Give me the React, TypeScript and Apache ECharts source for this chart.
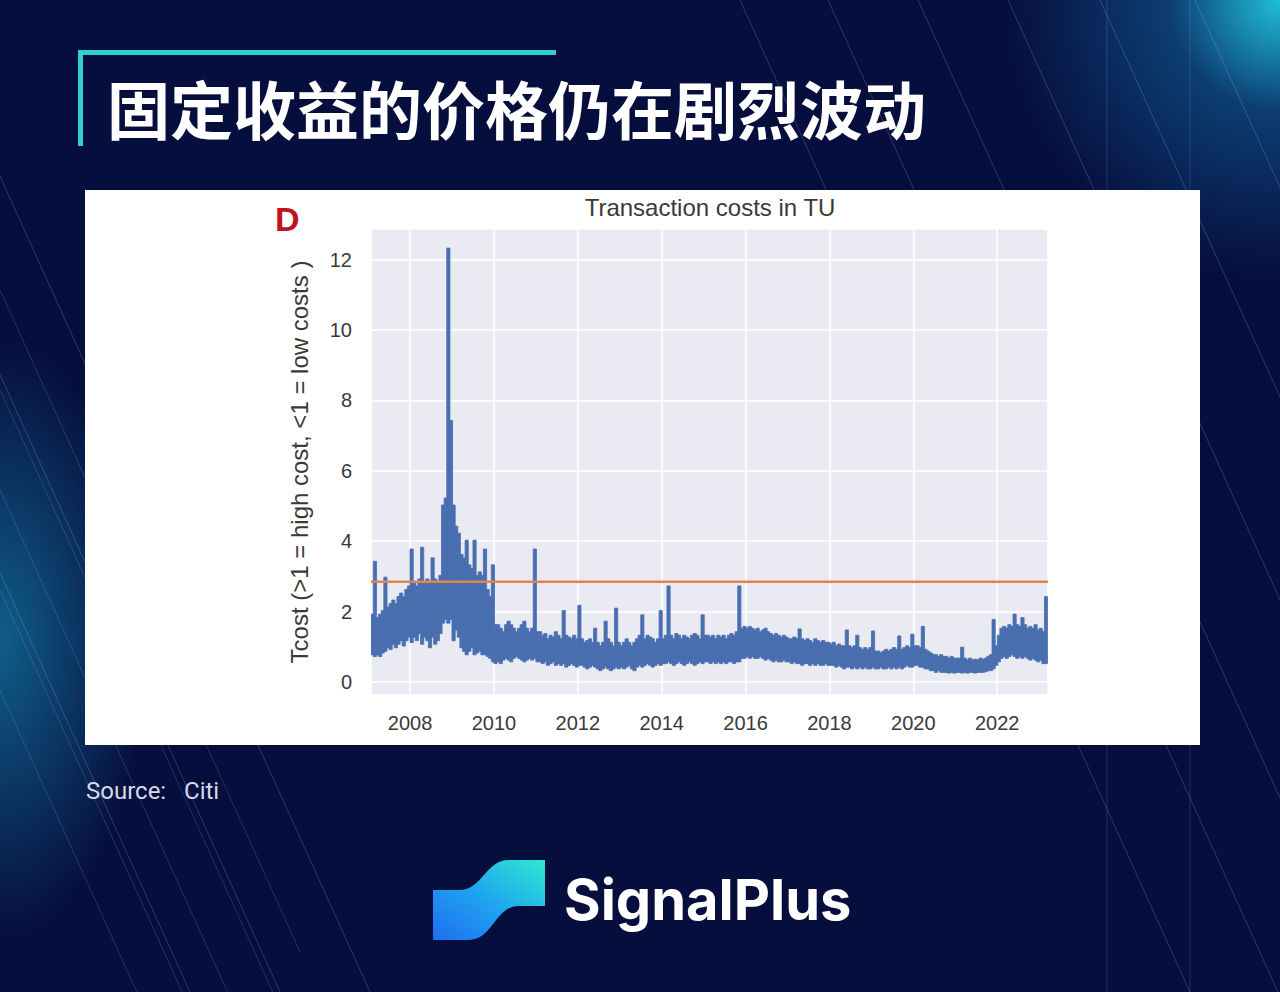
import React, { useEffect, useRef } from "react";
import * as echarts from "echarts";

// ---- data ----
// Each period covers STEP years; for each period the range (low..high) the daily series spans.
const START_YEAR = 2007.07;
const STEP = 1 / 16;
const END_YEAR = 2023.21;
const threshold = 2.85; // orange reference line
const yearTicks = [2008, 2010, 2012, 2014, 2016, 2018, 2020, 2022];
const valueTicks = [0, 2, 4, 6, 8, 10, 12];

const low2007 = [0.8, 0.75, 0.8, 0.75, 0.85, 0.9, 1.0, 0.95, 1.1, 1.0, 1.1, 1.2, 1.05, 1.2, 1.3, 1.15];
const high2007 = [1.9, 3.4, 1.8, 1.9, 2.0, 2.95, 2.1, 2.2, 2.3, 2.2, 2.4, 2.5, 2.4, 2.6, 2.7, 3.75];
const low2008 = [1.3, 1.2, 1.4, 1.1, 1.3, 1.2, 1.0, 1.3, 1.1, 1.2, 1.4, 1.7, 1.8, 1.7, 1.8, 1.2];
const high2008 = [2.8, 2.7, 2.9, 3.8, 2.8, 2.9, 2.8, 3.5, 2.9, 2.8, 3.0, 5.0, 5.2, 12.3, 7.4, 5.0];
const low2009 = [1.5, 1.3, 1.0, 0.9, 0.8, 0.9, 1.0, 0.8, 0.85, 0.9, 0.8, 0.8, 0.75, 0.7, 0.6, 0.55];
const high2009 = [4.4, 4.2, 3.6, 3.5, 4.0, 3.3, 3.2, 4.0, 3.0, 3.1, 3.0, 3.75, 2.6, 2.4, 3.3, 1.6];
const low2010 = [0.6, 0.55, 0.65, 0.7, 0.65, 0.6, 0.7, 0.75, 0.7, 0.65, 0.6, 0.65, 0.7, 0.65, 0.7, 0.6];
const high2010 = [1.6, 1.5, 1.4, 1.6, 1.7, 1.6, 1.5, 1.4, 1.5, 1.6, 1.7, 1.5, 1.4, 1.5, 3.75, 1.4];
const low2011 = [0.6, 0.55, 0.6, 0.5, 0.55, 0.6, 0.5, 0.55, 0.5, 0.55, 0.45, 0.5, 0.55, 0.5, 0.45, 0.5];
const high2011 = [1.4, 1.3, 1.35, 1.2, 1.3, 1.25, 1.4, 1.3, 1.2, 2.0, 1.3, 1.25, 1.2, 1.3, 1.2, 2.15];
const low2012 = [0.5, 0.45, 0.4, 0.45, 0.5, 0.45, 0.4, 0.35, 0.4, 0.45, 0.4, 0.35, 0.4, 0.45, 0.4, 0.45];
const high2012 = [1.2, 1.1, 1.15, 1.2, 1.1, 1.5, 1.1, 1.0, 1.1, 1.7, 1.2, 1.1, 1.0, 2.07, 1.1, 1.0];
const low2013 = [0.4, 0.45, 0.5, 0.4, 0.35, 0.45, 0.5, 0.45, 0.5, 0.55, 0.5, 0.45, 0.5, 0.55, 0.5, 0.55];
const high2013 = [1.1, 1.2, 1.1, 1.0, 1.1, 1.2, 1.3, 1.88, 1.2, 1.3, 1.25, 1.2, 1.1, 1.2, 2.0, 1.2];
const low2014 = [0.55, 0.6, 0.55, 0.5, 0.55, 0.6, 0.55, 0.5, 0.55, 0.6, 0.55, 0.5, 0.55, 0.6, 0.55, 0.6];
const high2014 = [1.3, 2.7, 1.3, 1.2, 1.35, 1.3, 1.2, 1.3, 1.25, 1.2, 1.3, 1.35, 1.3, 1.2, 1.88, 1.3];
const low2015 = [0.6, 0.55, 0.6, 0.55, 0.6, 0.55, 0.6, 0.55, 0.6, 0.6, 0.55, 0.6, 0.6, 0.7, 0.7, 0.75];
const high2015 = [1.3, 1.25, 1.3, 1.2, 1.3, 1.25, 1.3, 1.2, 1.3, 1.35, 1.3, 1.4, 2.7, 1.5, 1.55, 1.5];
const low2016 = [0.7, 0.75, 0.7, 0.7, 0.75, 0.7, 0.65, 0.7, 0.65, 0.6, 0.65, 0.6, 0.6, 0.65, 0.6, 0.6];
const high2016 = [1.55, 1.5, 1.45, 1.5, 1.4, 1.45, 1.5, 1.4, 1.35, 1.3, 1.35, 1.3, 1.25, 1.3, 1.25, 1.2];
const low2017 = [0.55, 0.6, 0.55, 0.55, 0.5, 0.55, 0.55, 0.5, 0.55, 0.5, 0.55, 0.5, 0.5, 0.55, 0.5, 0.5];
const high2017 = [1.2, 1.25, 1.2, 1.48, 1.2, 1.15, 1.2, 1.15, 1.1, 1.2, 1.15, 1.1, 1.15, 1.1, 1.1, 1.05];
const low2018 = [0.5, 0.45, 0.5, 0.45, 0.4, 0.45, 0.45, 0.4, 0.45, 0.4, 0.45, 0.4, 0.45, 0.4, 0.4, 0.45];
const high2018 = [1.1, 1.0, 1.05, 1.0, 1.0, 1.45, 1.0, 0.95, 1.0, 1.3, 0.95, 0.9, 0.95, 0.9, 0.95, 1.42];
const low2019 = [0.4, 0.4, 0.45, 0.4, 0.4, 0.45, 0.4, 0.45, 0.4, 0.45, 0.4, 0.45, 0.5, 0.45, 0.45, 0.5];
const high2019 = [0.85, 0.85, 0.8, 0.85, 0.9, 0.85, 0.9, 0.95, 0.9, 1.28, 0.9, 0.95, 1.0, 0.95, 1.33, 1.0];
const low2020 = [0.5, 0.45, 0.45, 0.4, 0.4, 0.35, 0.35, 0.3, 0.35, 0.3, 0.3, 0.3, 0.28, 0.3, 0.28, 0.3];
const high2020 = [1.0, 0.95, 1.55, 0.9, 0.85, 0.8, 0.75, 0.75, 0.7, 0.75, 0.7, 0.7, 0.65, 0.7, 0.65, 0.65];
const low2021 = [0.3, 0.28, 0.3, 0.28, 0.3, 0.3, 0.28, 0.3, 0.3, 0.3, 0.32, 0.35, 0.35, 0.4, 0.5, 0.6];
const high2021 = [0.65, 0.96, 0.65, 0.6, 0.65, 0.6, 0.62, 0.6, 0.65, 0.62, 0.65, 0.7, 0.75, 1.75, 1.0, 1.3];
const low2022 = [0.7, 0.75, 0.7, 0.75, 0.8, 0.75, 0.7, 0.75, 0.7, 0.75, 0.7, 0.65, 0.7, 0.65, 0.6, 0.65];
const high2022 = [1.5, 1.55, 1.5, 1.6, 1.55, 1.9, 1.6, 1.55, 1.8, 1.6, 1.5, 1.55, 1.5, 1.6, 1.45, 1.5];
const low2023 = [0.55, 0.55];
const high2023 = [1.4, 2.4];

const lows = [
  ...low2007, ...low2008, ...low2009, ...low2010, ...low2011, ...low2012, ...low2013, ...low2014,
  ...low2015, ...low2016, ...low2017, ...low2018, ...low2019, ...low2020, ...low2021, ...low2022, ...low2023,
];
const highs = [
  ...high2007, ...high2008, ...high2009, ...high2010, ...high2011, ...high2012, ...high2013, ...high2014,
  ...high2015, ...high2016, ...high2017, ...high2018, ...high2019, ...high2020, ...high2021, ...high2022, ...high2023,
];

// SignalPlus logo mark
echarts.graphic.registerShape(
  "spLogo",
  echarts.graphic.extendPath(
    "M0 30 L26 30 C50 30 52 0 76 0 L112 0 L112 46 L86 46 C62 46 60 80 36 80 L0 80 Z",
    {}
  )
);

export default function App() {
  const ref = useRef<HTMLDivElement>(null);

  useEffect(() => {
    document.body.style.margin = "0";
    if (!ref.current) return;
    const chart = echarts.init(ref.current, undefined, { renderer: "svg" });

    const bandData = lows.map((lo, i) => [START_YEAR + i * STEP, lo, highs[i]]);

    const deco: any[] = [];
    [-260, -170, -80, 740, 828, 918, 1008, 1100, 1195].forEach((x0) => {
      deco.push({
        type: "line",
        z: -8,
        silent: true,
        shape: { x1: x0, y1: 0, x2: x0 + 450, y2: 992 },
        style: { stroke: "rgba(150,170,230,0.28)", lineWidth: 1 },
      });
    });
    [-10, 90, 190, 290, 390].forEach((y0) => {
      deco.push({
        type: "line",
        z: -8,
        silent: true,
        shape: { x1: 0, y1: 300 + y0, x2: 300, y2: 300 + y0 + 662 },
        style: { stroke: "rgba(150,170,230,0.22)", lineWidth: 1 },
      });
    });
    [1107, 1190].forEach((x0) => {
      deco.push({
        type: "line",
        z: -8,
        silent: true,
        shape: { x1: x0, y1: 0, x2: x0, y2: 992 },
        style: { stroke: "rgba(150,170,230,0.2)", lineWidth: 1 },
      });
    });

    const axisFont = "Liberation Sans, Arial, sans-serif";

    const option: any = {
      animation: false,
      backgroundColor: "transparent",
      grid: {
        left: 371,
        top: 229,
        width: 677,
        height: 466,
        show: true,
        backgroundColor: "#eaeaf2",
        borderWidth: 0,
      },
      xAxis: {
        type: "value",
        min: START_YEAR,
        max: END_YEAR,
        minInterval: 2,
        maxInterval: 2,
        axisLine: { show: false },
        axisTick: { show: false },
        splitLine: { show: true, lineStyle: { color: "#ffffff", width: 1.6 } },
        axisLabel: {
          showMinLabel: false,
          showMaxLabel: false,
          margin: 18,
          color: "#3a3a3a",
          fontFamily: axisFont,
          fontSize: 20,
          formatter: (v: number) => (yearTicks.includes(Math.round(v * 1000) / 1000) ? String(v) : ""),
        },
      },
      yAxis: {
        type: "value",
        min: -0.37,
        max: 12.87,
        minInterval: 2,
        maxInterval: 2,
        name: "Tcost (>1 = high cost, <1 = low costs )",
        nameLocation: "middle",
        nameRotate: 90,
        nameGap: 60,
        nameTextStyle: { color: "#3a3a3a", fontFamily: axisFont, fontSize: 24 },
        axisLine: { show: false },
        axisTick: { show: false },
        splitLine: { show: true, lineStyle: { color: "#ffffff", width: 1.6 } },
        axisLabel: {
          showMinLabel: false,
          showMaxLabel: false,
          margin: 19,
          color: "#3a3a3a",
          fontFamily: axisFont,
          fontSize: 20,
          formatter: (v: number) => (valueTicks.includes(Math.round(v * 1000) / 1000) ? String(v) : ""),
        },
      },
      series: [
        {
          type: "custom",
          name: "Tcost",
          data: bandData,
          encode: { x: 0, y: [1, 2] },
          z: 3,
          clip: true,
          renderItem: (params: any, api: any) => {
            const x0 = api.value(0);
            const lo = api.value(1);
            const hi = api.value(2);
            const pTop = api.coord([x0, hi]);
            const pBot = api.coord([x0 + STEP, lo]);
            return {
              type: "rect",
              shape: {
                x: pTop[0] - 0.3,
                y: pTop[1] - 1,
                width: pBot[0] - pTop[0] + 0.6,
                height: pBot[1] - pTop[1] + 2,
              },
              style: { fill: "#4a6fb0", stroke: "#4a6fb0", lineWidth: 0.8 },
            };
          },
        },
        {
          type: "line",
          name: "threshold",
          data: [
            [START_YEAR, threshold],
            [END_YEAR, threshold],
          ],
          showSymbol: false,
          symbol: "none",
          lineStyle: { color: "#dd8452", width: 2.5 },
          z: 4,
        },
      ],
      graphic: [
        ...deco,
        {
          type: "rect",
          z: -5,
          silent: true,
          shape: { x: 85, y: 190, width: 1115, height: 555 },
          style: { fill: "#ffffff" },
        },
        {
          type: "rect",
          z: 5,
          shape: { x: 78, y: 50, width: 478, height: 5 },
          style: { fill: "#2fcfd3" },
        },
        {
          type: "rect",
          z: 5,
          shape: { x: 78, y: 50, width: 5, height: 96 },
          style: { fill: "#2fcfd3" },
        },
        {
          type: "text",
          z: 5,
          x: 107,
          y: 106,
          style: {
            text: "固定收益的价格仍在剧烈波动",
            fill: "#ffffff",
            fontFamily: "Noto Sans CJK SC",
            fontWeight: "bold",
            fontSize: 63,
            verticalAlign: "middle",
            textAlign: "left",
          },
        },
        {
          type: "text",
          z: 5,
          x: 275,
          y: 219,
          style: {
            text: "D",
            fill: "#c0141c",
            fontFamily: axisFont,
            fontWeight: "bold",
            fontSize: 34,
            verticalAlign: "middle",
          },
        },
        {
          type: "text",
          z: 5,
          x: 710,
          y: 207,
          style: {
            text: "Transaction costs in TU",
            fill: "#3a3a3a",
            fontFamily: axisFont,
            fontSize: 24,
            textAlign: "center",
            verticalAlign: "middle",
          },
        },
        {
          type: "text",
          z: 5,
          x: 86,
          y: 791,
          style: {
            text: "Source:   Citi",
            fill: "#d6dae6",
            fontFamily: "Roboto, sans-serif",
            fontSize: 24,
            verticalAlign: "middle",
          },
        },
        {
          type: "spLogo",
          z: 5,
          x: 433,
          y: 860,
          style: {
            fill: new echarts.graphic.LinearGradient(0, 1, 1, 0, [
              { offset: 0, color: "#1f6ef2" },
              { offset: 0.5, color: "#1fa6ee" },
              { offset: 1, color: "#2ee8d2" },
            ]),
          },
        },
        {
          type: "text",
          z: 5,
          x: 564,
          y: 900,
          style: {
            text: "SignalPlus",
            fill: "#ffffff",
            fontFamily: "Inter, sans-serif",
            fontWeight: 700,
            fontSize: 56,
            verticalAlign: "middle",
          },
        },
      ],
    };

    chart.setOption(option);
    return () => chart.dispose();
  }, []);

  return (
    <div
      ref={ref}
      style={{
        width: 1280,
        height: 992,
        background:
          "radial-gradient(circle at 1280px 0px, rgba(34,200,225,0.95) 0px, rgba(20,120,180,0.45) 110px, rgba(7,15,62,0) 280px), radial-gradient(ellipse 150px 300px at 0px 640px, rgba(25,160,200,0.55), rgba(7,15,62,0)), #060e3d",
      }}
    />
  );
}
